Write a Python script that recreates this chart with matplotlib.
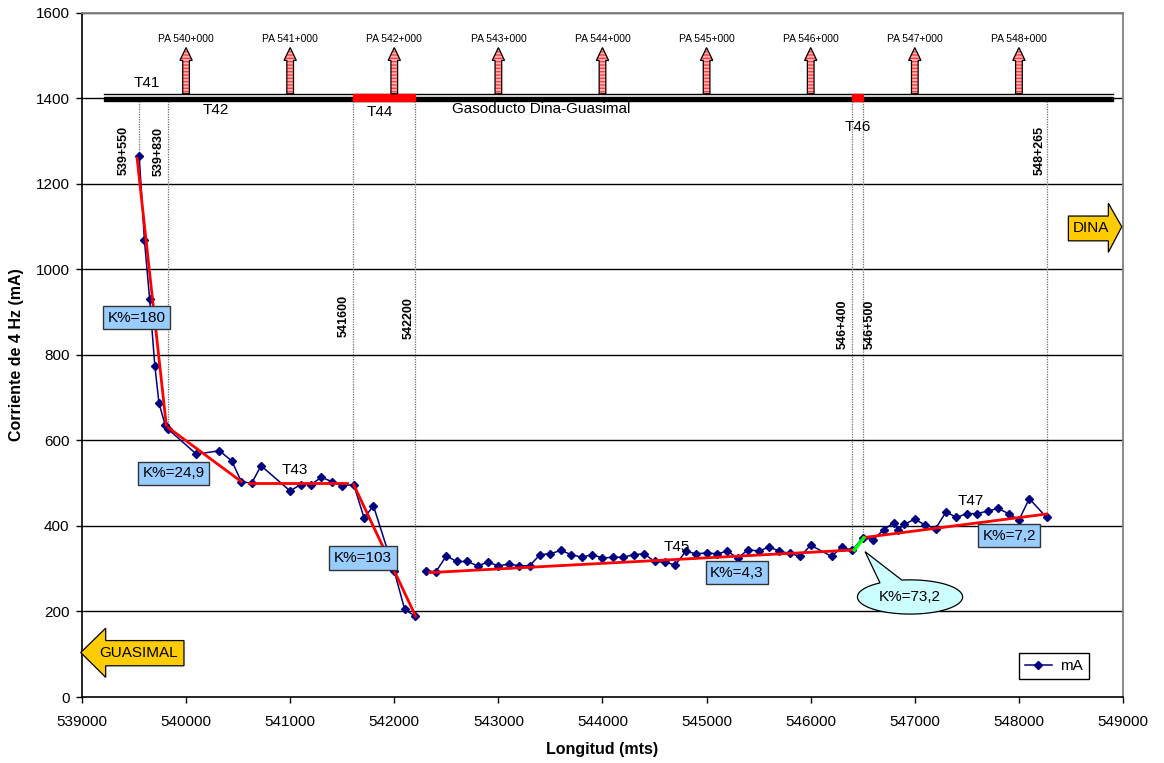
import numpy as np
import matplotlib.pyplot as plt
from matplotlib.patches import Polygon, FancyArrow, Rectangle

plt.rcParams['font.family'] = ['Liberation Sans', 'DejaVu Sans']

# 4 Hz current along the pipeline, first stretch (T41-T44)
dist_a = [539550, 539600, 539650, 539700, 539740, 539800, 539830, 540100,
          540320, 540440, 540530, 540630, 540720, 541000, 541100, 541200,
          541300, 541400, 541500, 541610, 541710, 541800, 542000, 542100,
          542200]
ma_a = [1265, 1069, 931, 775, 687, 636, 626, 568,
        576, 552, 504, 500, 541, 482, 497, 497,
        514, 504, 494, 497, 419, 447, 294, 205,
        189]

# second stretch (T45-T47)
dist_b = [542300, 542400, 542500, 542600, 542700, 542800, 542900, 543000,
          543100, 543200, 543300, 543400, 543500, 543600, 543700, 543800,
          543900, 544000, 544100, 544200, 544300, 544400, 544500, 544600,
          544700, 544800, 544900, 545000, 545100, 545200, 545300, 545400,
          545500, 545600, 545700, 545800, 545900, 546000, 546200, 546300,
          546400, 546500, 546600, 546700, 546800, 546840, 546900, 547000,
          547100, 547200, 547300, 547400, 547500, 547600, 547700, 547800,
          547900, 548000, 548100, 548265]
ma_b = [295, 293, 330, 317, 317, 307, 315, 307,
        311, 307, 307, 333, 335, 343, 333, 327,
        333, 325, 327, 327, 333, 335, 317, 315,
        309, 341, 335, 337, 335, 341, 325, 345,
        341, 351, 341, 336, 329, 355, 329, 351,
        343, 373, 368, 391, 408, 391, 404, 416,
        402, 394, 433, 420, 429, 429, 435, 441,
        429, 414, 464, 420]

# straight-line fits per section
fit_x0 = [539530, 539830, 540600, 541610, 542340, 546510]
fit_y0 = [1260, 630, 500, 497, 291, 373]
fit_x1 = [539810, 540530, 541550, 542205, 546420, 548265]
fit_y1 = [636, 504, 500, 189, 344, 428]
fit_k = ["K%=180", "K%=24,9", None, "K%=103", "K%=4,3", "K%=7,2"]
fit_k_xy = [(539528, 887), (539881, 523), None, (541699, 325),
            (545292, 291), (547905, 377)]

# short insulated joint section
joint_x = [546420, 546510]
joint_y = [344, 372]

# km posts and section cut points
pa_km = [540, 541, 542, 543, 544, 545, 546, 547, 548]
cut_pos = [539550, 539830, 541600, 542200, 546400, 546500, 548265]
cut_end = [1265, 632, 500, 210, 346, 373, 428]
cut_labels = ["539+550", "539+830", "541600", "542200", "546+400",
              "546+500", "548+265"]
cut_label_xy = [(539400, 1278), (539733, 1277), (541517, 891),
                (542138, 887), (546307, 871), (546570, 871),
                (548203, 1279)]

sections = ["T41", "T42", "T43", "T44", "T45", "T46", "T47"]
section_xy = [(539622, 1437), (540284, 1372), (541049, 532),
              (541863, 1369), (544713, 350), (546454, 1333),
              (547537, 459)]

fig = plt.figure(figsize=(11.64, 7.63), dpi=100)
ax = fig.add_axes([0.0704, 0.0865, 0.8944, 0.8965])

ax.set_xlim(539000, 549000)
ax.set_ylim(0, 1600)
ax.set_xticks(np.arange(539000, 549001, 1000))
ax.set_yticks(np.arange(0, 1601, 200))
ax.ticklabel_format(useOffset=False, style='plain')
ax.tick_params(labelsize=11, length=4, width=1, direction='out')
ax.tick_params(axis='x', pad=9)
ax.tick_params(axis='y', pad=5)
for y in range(200, 1601, 200):
    ax.axhline(y, color='black', lw=1, zorder=0.5)
for s in ('top', 'right'):
    ax.spines[s].set_color('#808080')
    ax.spines[s].set_linewidth(1.3)
for s in ('left', 'bottom'):
    ax.spines[s].set_linewidth(1.2)

ax.set_xlabel("Longitud (mts)", fontsize=11.5, fontweight='bold', labelpad=9)
ax.set_ylabel("Corriente de 4 Hz (mA)", fontsize=11.5, fontweight='bold',
              labelpad=8)

# pipeline drawn along the top
pipe_x0, pipe_x1 = 539214, 548907
ax.plot([pipe_x0, pipe_x1], [1410, 1410], color='black', lw=1, zorder=3)
ax.add_patch(Rectangle((pipe_x0, 1393), pipe_x1 - pipe_x0, 11,
                       color='black', zorder=3))
ax.add_patch(Rectangle((541600, 1393), 600, 18, color='red', zorder=4))
ax.add_patch(Rectangle((546400, 1393), 100, 18, color='red', zorder=4))
ax.text(542550, 1375, "Gasoducto Dina-Guasimal", fontsize=11,
        ha='left', va='center')

for km in pa_km:
    x = km * 1000
    kw = dict(width=64, head_width=118, head_length=30,
              length_includes_head=True, zorder=5)
    ax.add_patch(FancyArrow(x, 1411, 0, 108, facecolor='#FFB0B0',
                            edgecolor='#FF4040', lw=0, hatch='-----', **kw))
    ax.add_patch(FancyArrow(x, 1411, 0, 108, fill=False,
                            edgecolor='black', lw=0.9, **kw))
    ax.text(x, 1538, f"PA {km}+000", fontsize=7.5, ha='center', va='center')

for x, yend, lab, (lx, ly) in zip(cut_pos, cut_end, cut_labels, cut_label_xy):
    ax.plot([x, x], [1393, yend], color='#707070', ls=(0, (1, 1)), lw=0.9,
            zorder=1)
    ax.text(lx, ly, lab, rotation=90, fontsize=9, fontweight='bold',
            ha='center', va='center')

for name, (tx, ty) in zip(sections, section_xy):
    ax.text(tx, ty, name, fontsize=11, ha='center', va='center', zorder=6)

# measured series, broken between the two stretches
dist = dist_a + [np.nan] + dist_b
ma = ma_a + [np.nan] + ma_b
ax.plot(dist, ma, color='#000080', marker='D', ms=4.5, lw=1.1, label='mA',
        zorder=4)

for x0, y0, x1, y1 in zip(fit_x0, fit_y0, fit_x1, fit_y1):
    ax.plot([x0, x1], [y0, y1], color='red', lw=2, zorder=5)
ax.plot(joint_x, joint_y, color='#00FF00', lw=2.5, zorder=5)

for k, xy in zip(fit_k, fit_k_xy):
    if k is None:
        continue
    ax.text(xy[0], xy[1], k, fontsize=11, ha='center', va='center', zorder=7,
            bbox=dict(boxstyle='square,pad=0.3', facecolor='#99CCFF',
                      edgecolor='#333333', lw=1))

# callout for the joint section
cx, cy, ea, eb = 546954, 234, 505, 40
tip = (546522, 340)
t = np.radians(np.linspace(124.8, 459, 200))
pts = np.column_stack([cx + ea * np.cos(t), cy + eb * np.sin(t)])
pts = np.vstack([pts, tip])
ax.add_patch(Polygon(pts, closed=True, facecolor='#CCFFFF', edgecolor='black',
                     lw=0.9, zorder=7))
ax.text(cx, cy, "K%=73,2", fontsize=11, ha='center', va='center', zorder=8)

# direction arrows
guasimal = [(538988, 104), (539228, 161), (539228, 132), (539980, 132),
            (539980, 73), (539228, 73), (539228, 46)]
ax.add_patch(Polygon(guasimal, closed=True, facecolor='#FFCC00',
                     edgecolor='black', lw=0.9, zorder=7, clip_on=False))
ax.text(539540, 103, "GUASIMAL", fontsize=11, ha='center', va='center',
        zorder=8)
dina = [(548475, 1125), (548859, 1125), (548859, 1155), (548988, 1100),
        (548859, 1040), (548859, 1067), (548475, 1067)]
ax.add_patch(Polygon(dina, closed=True, facecolor='#FFCC00',
                     edgecolor='black', lw=0.9, zorder=7, clip_on=False))
ax.text(548695, 1097, "DINA", fontsize=11, ha='center', va='center', zorder=8)

leg = ax.legend(loc='lower right', bbox_to_anchor=(0.967, 0.026),
                fontsize=11, handlelength=1.8, fancybox=False, framealpha=1,
                borderaxespad=0, borderpad=0.4, handletextpad=0.5)
leg.get_frame().set_edgecolor('black')
leg.get_frame().set_linewidth(1)

fig.savefig("out.png", dpi=100)
